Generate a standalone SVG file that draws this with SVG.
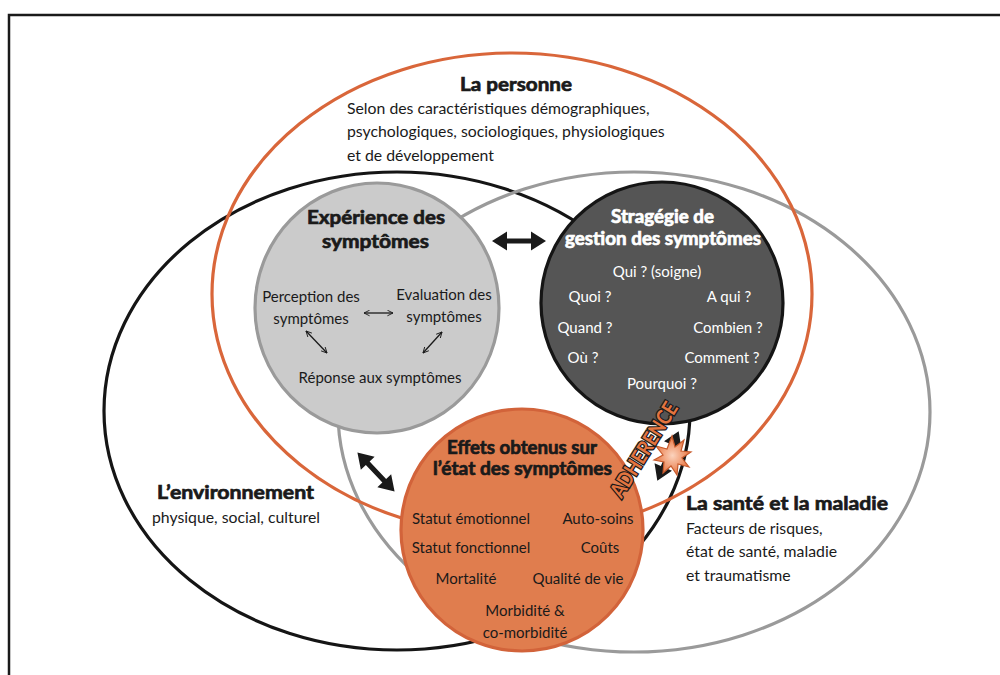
<svg xmlns="http://www.w3.org/2000/svg" width="1000" height="675" viewBox="0 0 1000 675">
<style>
text{font-family:Lato,"Open Sans","Liberation Sans",sans-serif;fill:#1a1a1a}
.h{font-size:19px;font-weight:bold;stroke:#1a1a1a;stroke-width:0.7}
.h2{font-size:18px;font-weight:bold;stroke:#1a1a1a;stroke-width:0.7}
.t{font-size:15.8px}
.s{font-size:15px}
.w{fill:#ffffff}
.h2.w{stroke:#ffffff}
.m{text-anchor:middle}
.thin{fill:none;stroke:#1a1a1a;stroke-width:1.3;marker-start:url(#oh);marker-end:url(#oh)}
</style>
<defs>
<polygon id="dbl" points="-27,0 -12,-9.5 -12,-2.6 12,-2.6 12,-9.5 27,0 12,9.5 12,2.6 -12,2.6 -12,9.5" fill="#1a1a1a"/>
<marker id="oh" viewBox="0 0 10 10" refX="9" refY="5" markerWidth="7" markerHeight="7" markerUnits="userSpaceOnUse" orient="auto-start-reverse">
<path d="M1,1 L9,5 L1,9" fill="none" stroke="#1a1a1a" stroke-width="1.3"/>
</marker>
<radialGradient id="burst" cx="0.5" cy="0.5" r="0.5">
<stop offset="0" stop-color="#fbd3bd"/>
<stop offset="1" stop-color="#e8743f"/>
</radialGradient>
</defs>

<path d="M9,675 V15 H1000" fill="none" stroke="#1a1a1a" stroke-width="2.5"/>

<g id="environnement">
<ellipse cx="397" cy="411" rx="293" ry="239" fill="none" stroke="#151515" stroke-width="3.2"/>
<text class="h" x="157" y="499" textLength="157" lengthAdjust="spacingAndGlyphs">L’environnement</text>
<text class="t m" x="236" y="523">physique, social, culturel</text>
</g>
<g id="sante">
<ellipse cx="634" cy="412" rx="296" ry="240" fill="none" stroke="#9a9a9a" stroke-width="3.2"/>
<text class="h" x="686" y="510" textLength="202" lengthAdjust="spacingAndGlyphs">La santé et la maladie</text>
<text class="t" x="686" y="534">Facteurs de risques,</text>
<text class="t" x="686" y="557">état de santé, maladie</text>
<text class="t" x="686" y="581">et traumatisme</text>
</g>
<g id="personne">
<ellipse cx="512" cy="294" rx="300" ry="241" fill="none" stroke="#d9663a" stroke-width="3.2"/>
<text class="h" x="460" y="91" textLength="112" lengthAdjust="spacingAndGlyphs">La personne</text>
<text class="t" x="347" y="114">Selon des caractéristiques démographiques,</text>
<text class="t" x="347" y="137">psychologiques, sociologiques, physiologiques</text>
<text class="t" x="347" y="161">et de développement</text>
</g>

<g id="experience">
<ellipse cx="377" cy="308" rx="122" ry="125" fill="#cbcbcb" stroke="#9a9a9a" stroke-width="3.2"/>
<text class="h" x="307" y="224" textLength="138" lengthAdjust="spacingAndGlyphs">Expérience des</text>
<text class="h" x="322" y="248" textLength="107" lengthAdjust="spacingAndGlyphs">symptômes</text>
<text class="s m" x="311" y="302">Perception des</text>
<text class="s m" x="311" y="324">symptômes</text>
<text class="s m" x="444" y="300">Evaluation des</text>
<text class="s m" x="444" y="322">symptômes</text>
<text class="s m" x="380" y="383">Réponse aux symptômes</text>
<line class="thin" x1="364" y1="313" x2="393" y2="313"/>
<line class="thin" x1="306" y1="331" x2="327" y2="353"/>
<line class="thin" x1="442" y1="332" x2="423" y2="353"/>
</g>

<g id="strategie">
<circle cx="662" cy="303" r="121" fill="#555555" stroke="#151515" stroke-width="3.2"/>
<text class="h2 w" x="611" y="223" textLength="103" lengthAdjust="spacingAndGlyphs">Stragégie de</text>
<text class="h2 w" x="565" y="245" textLength="196" lengthAdjust="spacingAndGlyphs">gestion des symptômes</text>
<text class="s m w" x="657" y="277">Qui ? (soigne)</text>
<text class="s m w" x="590" y="302">Quoi ?</text>
<text class="s m w" x="729" y="302">A qui ?</text>
<text class="s m w" x="585" y="333">Quand ?</text>
<text class="s m w" x="728" y="333">Combien ?</text>
<text class="s m w" x="583" y="363">Où ?</text>
<text class="s m w" x="722" y="363">Comment ?</text>
<text class="s m w" x="662" y="389">Pourquoi ?</text>
</g>

<g id="effets">
<circle cx="522" cy="530" r="121" fill="#e07d4e" stroke="#d2633a" stroke-width="3.2"/>
<text class="h2" x="447" y="454" textLength="150" lengthAdjust="spacingAndGlyphs">Effets obtenus sur</text>
<text class="h2" x="433" y="475" textLength="179" lengthAdjust="spacingAndGlyphs">l’état des symptômes</text>
<text class="s m" x="471" y="524">Statut émotionnel</text>
<text class="s m" x="598" y="524">Auto-soins</text>
<text class="s m" x="471" y="553">Statut fonctionnel</text>
<text class="s m" x="600" y="553">Coûts</text>
<text class="s m" x="466" y="584">Mortalité</text>
<text class="s m" x="578" y="584">Qualité de vie</text>
<text class="s m" x="525" y="616">Morbidité &amp;</text>
<text class="s m" x="525" y="638">co-morbidité</text>
</g>

<g id="connectors">
<use href="#dbl" transform="translate(519,241)"/>
<use href="#dbl" transform="translate(376,472) rotate(46.5)"/>
<use href="#dbl" transform="translate(668,456) rotate(113.3)"/>
<polygon points="672,436 675,447 684,440 681,451 691,452 682,458 689,467 678,464 677,475 671,466 663,473 664,462 654,460 663,455 656,446 667,449" fill="url(#burst)" stroke="#c75a2c" stroke-width="1.2"/>
<text x="0" y="0" transform="translate(643,449) rotate(-58)" text-anchor="middle" dominant-baseline="central" textLength="108" lengthAdjust="spacingAndGlyphs" style="font-size:21px;font-weight:bold;fill:#e3743f;stroke:#1a1a1a;stroke-width:2.6;paint-order:stroke">ADHERENCE</text>
</g>
</svg>
